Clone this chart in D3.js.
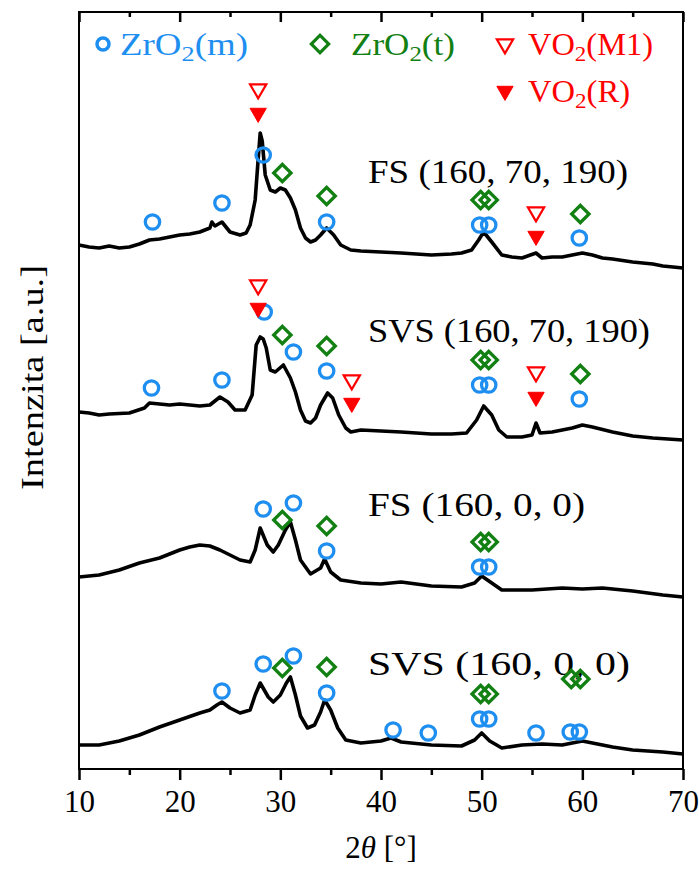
<!DOCTYPE html>
<html>
<head>
<meta charset="utf-8">
<script src="https://cdn.jsdelivr.net/npm/d3@7"></script>
<style>
  body { margin: 0; background: #fff; }
  svg text { font-family: "Liberation Serif", "DejaVu Serif", serif; }
</style>
</head>
<body>
<div id="chart"></div>
<script>
// XRD patterns, [2theta, intensity (a.u., already stacked)]
const fs_160_70_190 = [[10,524],[11,522],[12,521],[13,523],[14,521],[15,522],[16,525],[17,529],[18,530],[19,532],[20,534],[21,535],[22,537],[23,541],[23.2,547],[23.5,543],[24.2,547],[25,537],[26,534],[26.6,536],[27,544],[27.5,569],[27.8,610],[28,636],[28.2,628],[28.5,594],[29,579],[29.5,577],[30,581],[30.5,579],[31,571],[31.5,559],[32,541],[32.5,531],[33,527],[33.5,529],[34,534],[34.6,541],[35.3,534],[36,524],[37,519],[38,518],[40,517],[42,516],[45,514],[47,515],[48,516],[49,519],[49.7,529],[50.2,537],[51,527],[52,514],[53,512],[54,511],[55.4,516],[56,511],[57,512],[58,512],[59,514],[60,516],[61,514],[62,511],[63,510],[65,507],[67,505],[68,503],[70,501]];
const svs_160_70_190 = [[10,357],[11,356],[12,354],[13,355],[15,356],[16.5,361],[17,366],[18,365],[19,364],[20,365],[21,364],[22,363],[23,364],[24,372],[24.8,367],[25.5,359],[26.5,359],[27.2,374],[27.6,424],[28,432],[28.3,430],[28.6,421],[29,399],[29.5,397],[30.3,404],[31,391],[31.5,377],[32,359],[32.5,348],[33,346],[33.5,351],[34,364],[34.7,376],[35.2,371],[35.8,354],[36.5,341],[37,337],[38,339],[40,338],[42,337],[45,335],[47,335],[48.5,336],[49.5,349],[50.2,363],[51,354],[51.7,339],[52.5,332],[54,332],[55,334],[55.4,346],[55.8,336],[57,337],[59,341],[60,344],[61,342],[63,337],[65,333],[67,331],[70,329]];
const fs_160_0_0 = [[10,192],[12,194],[14,199],[16,206],[18,211],[20,219],[21,222],[22,224],[23,223],[24,219],[25,214],[26,209],[27,207],[27.5,219],[28,241],[28.7,224],[29.3,217],[29.8,224],[30.5,239],[31,247],[31.5,229],[32,209],[33,195],[34,201],[34.4,210],[35,197],[36,189],[38,186],[40,185],[42,187],[45,183],[48,182],[49.3,186],[50,193],[51,186],[52,179],[55,179],[58,181],[60,180],[62,181],[65,178],[68,174],[70,172]];
const svs_160_0_0 = [[10,24],[12,24],[14,28],[16,34],[18,42],[20,49],[22,56],[23,59],[23.7,64],[24.2,67],[25,61],[26,56],[27,59],[27.5,74],[28,86],[28.8,72],[29.3,67],[30,74],[30.6,86],[31,92],[31.5,74],[32,53],[32.7,41],[33.4,44],[34,57],[34.4,69],[35,59],[35.7,41],[36.5,29],[38,26],[40,28],[41,31],[42,27],[45,24],[48,23],[49.3,29],[50,36],[50.8,28],[52,21],[54,24],[56,25],[58,24],[60,28],[61,26],[63,22],[65,19],[68,17],[70,15]];

const patterns = [fs_160_70_190, svs_160_70_190, fs_160_0_0, svs_160_0_0];
const sampleNames = ["FS (160, 70, 190)", "SVS (160, 70, 190)", "FS (160, 0, 0)", "SVS (160, 0, 0)"];
const labelLevels = [586, 427, 253, 94];
const labelWidths = [260, 282, 217, 262];

// phase markers [2theta, intensity]
const zro2mPeaks = [[17.3,547],[24.2,566],[28.3,614],[34.6,547],[49.8,544],[50.7,544],[59.7,531],
  [17.2,381],[24.2,389],[28.4,457],[31.3,417],[34.6,398],[49.8,384],[50.7,384],[59.7,370],
  [28.3,260],[31.3,266],[34.6,218],[49.8,202],[50.7,202],
  [24.2,78],[28.3,105],[31.3,113],[34.6,76],[41.2,39],[44.7,36],[49.8,50],[50.7,50],[55.4,36],[58.8,37],[59.7,37]];
const zro2tPeaks = [[30.2,596],[34.6,573],[49.9,569],[50.7,569],[59.8,555],
  [30.2,434],[34.6,423],[49.9,409],[50.7,409],[59.8,395],
  [30.2,249],[34.6,243],[49.9,227],[50.7,227],
  [30.2,101],[34.6,102],[49.9,75],[50.7,75],[58.9,90],[59.8,90]];
const vo2m1Peaks = [[27.8,680],[55.4,557],[27.8,484],[37.1,389],[55.4,397]];
const vo2rPeaks = [[27.8,656],[55.4,533],[27.8,461],[37.1,366],[55.4,372]];

const xTicks = [10, 20, 30, 40, 50, 60, 70];
const xMinorTicks = [15, 25, 35, 45, 55, 65];

const width = 699, height = 870, margin = {top: 12, right: 16, bottom: 101, left: 79};
const blue = "#1e8ff0", green = "#138013", red = "#ff0000";
const serif = "Liberation Serif, DejaVu Serif, serif";

const svg = d3.select("#chart").append("svg")
    .attr("width", width)
    .attr("height", height)
    .attr("font-family", serif);

const x = d3.scaleLinear().domain([10, 70]).range([margin.left, width - margin.right]);
const y = d3.scaleLinear().domain([0, 757]).range([height - margin.bottom, margin.top]);

// axes: bottom ticks outward, top ticks inward
const bottomAxis = svg.append("g").attr("transform", `translate(0,${y(0)})`);
bottomAxis.call(d3.axisBottom(x).tickValues(xTicks).tickSize(11).tickPadding(10).tickFormat(d3.format("d")));
bottomAxis.append("g").call(d3.axisBottom(x).tickValues(xMinorTicks).tickSize(6).tickFormat(""));
const topAxis = svg.append("g").attr("transform", `translate(0,${y(757)})`);
topAxis.call(d3.axisBottom(x).tickValues(xTicks).tickSize(10).tickFormat(""));
topAxis.append("g").call(d3.axisBottom(x).tickValues(xMinorTicks).tickSize(5).tickFormat(""));
svg.selectAll(".domain").remove();
svg.selectAll("g").attr("font-family", serif);
svg.selectAll(".tick line").attr("stroke", "#000").attr("stroke-width", 2.5);
bottomAxis.selectAll(".tick text").attr("font-size", 31).attr("fill", "#000");

svg.append("rect")
    .attr("x", x(10)).attr("y", y(757))
    .attr("width", x(70) - x(10)).attr("height", y(0) - y(757))
    .attr("fill", "none").attr("stroke", "#000").attr("stroke-width", 2);

// axis titles
const xt = svg.append("text").attr("x", (x(10) + x(70)) / 2).attr("y", 858)
    .attr("text-anchor", "middle").attr("font-size", 31);
xt.append("tspan").text("2");
xt.append("tspan").attr("font-style", "italic").text("θ");
xt.append("tspan").text(" [°]");
svg.append("text").attr("transform", "rotate(-90)")
    .attr("x", -490).attr("y", 43)
    .attr("font-size", 31)
    .attr("textLength", 225).attr("lengthAdjust", "spacingAndGlyphs")
    .text("Intenzita [a.u.]");

// patterns
const line = d3.line().x(d => x(d[0])).y(d => y(d[1]));
svg.selectAll(".pattern").data(patterns).enter().append("path")
    .attr("class", "pattern")
    .attr("d", line)
    .attr("fill", "none").attr("stroke", "#000")
    .attr("stroke-width", 3.6).attr("stroke-linejoin", "round");

svg.selectAll(".sample").data(sampleNames).enter().append("text")
    .attr("class", "sample")
    .attr("x", 368).attr("y", (d, i) => y(labelLevels[i]))
    .attr("font-size", 34).attr("fill", "#000")
    .attr("textLength", (d, i) => labelWidths[i]).attr("lengthAdjust", "spacingAndGlyphs")
    .text(d => d);

// markers
const diamond = d3.symbol(d3.symbolSquare, 150);
const tri = d3.symbol(d3.symbolTriangle, 115);

function drawPeaks(data, kind) {
    const g = svg.append("g");
    if (kind === "circle") {
        g.selectAll("circle").data(data).enter().append("circle")
            .attr("cx", d => x(d[0])).attr("cy", d => y(d[1])).attr("r", 7.2)
            .attr("fill", "none").attr("stroke", blue).attr("stroke-width", 3.3);
    } else if (kind === "diamond") {
        g.selectAll("path").data(data).enter().append("path")
            .attr("d", diamond)
            .attr("transform", d => `translate(${x(d[0])},${y(d[1])}) rotate(45)`)
            .attr("fill", "none").attr("stroke", green).attr("stroke-width", 3.3);
    } else {
        g.selectAll("path").data(data).enter().append("path")
            .attr("d", tri)
            .attr("transform", d => `translate(${x(d[0])},${y(d[1])}) rotate(180)`)
            .attr("fill", kind === "open" ? "#fff" : red)
            .attr("stroke", red).attr("stroke-width", kind === "open" ? 2.2 : 1);
    }
}
drawPeaks(zro2mPeaks, "circle");
drawPeaks(zro2tPeaks, "diamond");
drawPeaks(vo2m1Peaks, "open");
drawPeaks(vo2rPeaks, "filled");

// legend
const legendItems = [
    {name: "ZrO", sub: "2", rest: "(m)", kind: "circle", color: blue, mx: 103, my: 44, tx: 120, ty: 55, w: 128},
    {name: "ZrO", sub: "2", rest: "(t)", kind: "diamond", color: green, mx: 320, my: 44, tx: 351, ty: 55, w: 104},
    {name: "VO", sub: "2", rest: "(M1)", kind: "open", color: red, mx: 505, my: 44, tx: 528, ty: 55, w: 125},
    {name: "VO", sub: "2", rest: "(R)", kind: "filled", color: red, mx: 505, my: 91, tx: 528, ty: 102, w: 102}
];
const legend = svg.append("g");
legendItems.forEach(it => {
    if (it.kind === "circle") {
        legend.append("circle").attr("cx", it.mx).attr("cy", it.my).attr("r", 6)
            .attr("fill", "none").attr("stroke", it.color).attr("stroke-width", 3.5);
    } else if (it.kind === "diamond") {
        legend.append("path").attr("d", diamond)
            .attr("transform", `translate(${it.mx},${it.my}) rotate(45)`)
            .attr("fill", "none").attr("stroke", it.color).attr("stroke-width", 3.2);
    } else {
        legend.append("path").attr("d", tri)
            .attr("transform", `translate(${it.mx},${it.my}) rotate(180)`)
            .attr("fill", it.kind === "open" ? "#fff" : it.color)
            .attr("stroke", it.color).attr("stroke-width", it.kind === "open" ? 2.2 : 1);
    }
    const t = legend.append("text").attr("x", it.tx).attr("y", it.ty)
        .attr("font-size", 31).attr("fill", it.color)
        .attr("textLength", it.w).attr("lengthAdjust", "spacingAndGlyphs");
    t.append("tspan").text(it.name);
    t.append("tspan").attr("font-size", 22).attr("dy", 6).text(it.sub);
    t.append("tspan").attr("dy", -6).text(it.rest);
});
</script>
</body>
</html>
